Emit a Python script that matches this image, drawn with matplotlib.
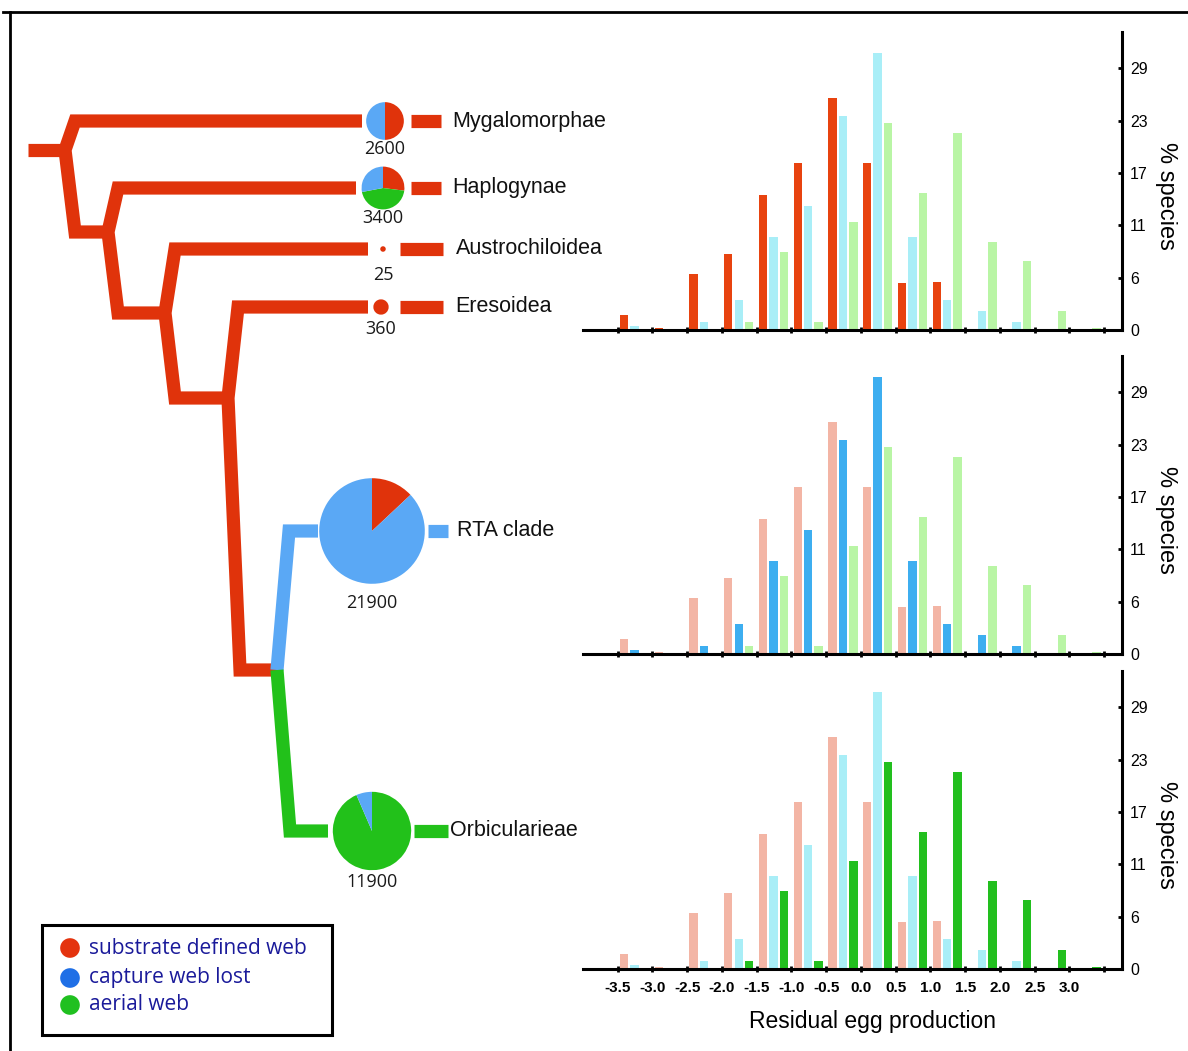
import numpy as np
import matplotlib
matplotlib.use("Agg")
import matplotlib.pyplot as plt
from matplotlib.patches import Rectangle

# histogram data: % species per residual egg production bin
bins = [-3.5, -3.0, -2.5, -2.0, -1.5, -1.0, -0.5, 0.0, 0.5, 1.0, 1.5, 2.0, 2.5, 3.0]
substrate_pct = [1.7, 0.2, 6.2, 8.4, 15.0, 18.5, 25.7, 18.5, 5.2, 5.3, 0, 0, 0, 0]
lost_pct = [0.4, 0, 0.9, 3.3, 10.3, 13.8, 23.7, 30.7, 10.3, 3.3, 2.1, 0.9, 0, 0]
aerial_pct = [0, 0, 0, 0.9, 8.7, 0.9, 12.0, 23.0, 15.2, 21.8, 9.8, 7.6, 2.1, 0.2]

xtick_labels = ["-3.5", "-3.0", "-2.5", "-2.0", "-1.5", "-1.0", "-0.5", "0.0",
                "0.5", "1.0", "1.5", "2.0", "2.5", "3.0", ""]
ytick_vals = [0, 5.8, 11.6, 17.4, 23.2, 29]
ytick_labels = ["0", "6", "11", "17", "23", "29"]

# clades, species numbers and web-type shares
clades = ["Mygalomorphae", "Haplogynae", "Austrochiloidea", "Eresoidea", "RTA clade", "Orbicularieae"]
species = [2600, 3400, 25, 360, 21900, 11900]
share_substrate = [0.50, 0.27, 1.0, 1.0, 0.13, 0.0]
share_aerial = [0.0, 0.45, 0.0, 0.0, 0.0, 0.935]
share_lost = [0.50, 0.28, 0.0, 0.0, 0.87, 0.065]

legend_labels = ["substrate defined web", "capture web lost", "aerial web"]

W, H = 1188, 1051
RED, BLUE, GREEN = "#E0330B", "#5AA8F5", "#22C11A"
NARROW = ["Liberation Sans Narrow", "Liberation Sans", "DejaVu Sans"]

fig = plt.figure(figsize=(W / 100, H / 100), dpi=100)
fig.patch.set_facecolor("white")

# ---- background axes in pixel units for tree, pies, legend ----
bg = fig.add_axes([0, 0, 1, 1])

def line(pts, color, lw=9.5):
    bg.plot([p[0] for p in pts], [H - p[1] for p in pts], color=color, lw=lw,
            solid_joinstyle="miter", solid_capstyle="butt")

# tree layout (pixels)
node_x = [65, 108, 165, 228, 277]
node_y = [150, 232, 313, 398, 670]
tip_y = [121, 188, 249, 307, 531, 831]
pie_x = [385, 383, 383, 381, 372, 372]
stub_end = [362, 356, 368, 368, 318, 328]
after = [(411, 441), (411, 441), (400, 443), (400, 443), (428, 448), (414, 448)]
label_x = [452, 452, 456, 455, 457, 450]
count_y = [149, 218, 275, 329, 603, 882]
slant = 10

line([(28, 150), (node_x[0], 150)], RED)
for i in range(4):
    line([(stub_end[i], tip_y[i]), (node_x[i] + slant, tip_y[i]), (node_x[i], node_y[i]),
          (node_x[i] + slant + (2 if i == 3 else 0), node_y[i + 1]), (node_x[i + 1], node_y[i + 1])], RED)
line([(stub_end[4], tip_y[4]), (node_x[4] + 12, tip_y[4]), (node_x[4], node_y[4])], BLUE)
line([(node_x[4], node_y[4]), (node_x[4] + 13, tip_y[5]), (stub_end[5], tip_y[5])], GREEN)

tip_colors = [RED, RED, RED, RED, BLUE, GREEN]
for i, name in enumerate(clades):
    line([(after[i][0], tip_y[i]), (after[i][1], tip_y[i])], tip_colors[i])
    r = 0.35 * np.sqrt(species[i]) + 1
    bg.pie([share_substrate[i], share_aerial[i], share_lost[i]], colors=[RED, GREEN, BLUE],
           startangle=90, counterclock=False, radius=r, center=(pie_x[i], H - tip_y[i]),
           frame=True, wedgeprops=dict(linewidth=0))
    bg.text(label_x[i], H - tip_y[i], name, ha="left", va="center", fontsize=15.5,
            family=NARROW, color="#111111")
    bg.text(pie_x[i], H - count_y[i], str(species[i]), ha="center", va="center",
            fontsize=13, family="Open Sans", color="#1a1a1a")

# legend box
bg.add_patch(Rectangle((42, H - 1035), 290, 110, fill=False, lw=2.2, edgecolor="black"))
leg_y = [948, 978, 1005]
for y, lab, c in zip(leg_y, legend_labels, ["#E4330E", "#1F6FE6", "#20C020"]):
    bg.scatter([70], [H - y], s=200, color=c, edgecolors="none")
    bg.text(89, H - y, lab, ha="left", va="center", fontsize=15, family="Open Sans",
            color="#1A1A9A")

# outer frame
bg.plot([3, W], [H - 12, H - 12], color="black", lw=2)
bg.plot([10, 10], [H - 12, 0], color="black", lw=2)

bg.set_xlim(0, W)
bg.set_ylim(0, H)
bg.set_aspect("auto")
bg.axis("off")

# ---- histograms ----
hist_bottoms = [330, 654, 969]
panel_colors = [
    ["#E8430F", "#A9EEF7", "#B9F5A5"],
    ["#F3B5A5", "#3DAEF0", "#B9F5A5"],
    ["#F3B5A5", "#A9EEF7", "#22BF1E"],
]
offsets = [0.09, 0.24, 0.39]
for k in range(3):
    ax = fig.add_axes([583 / W, 1 - hist_bottoms[k] / H, 538.6 / W, 297.6 / H])
    ax.set_facecolor("none")
    for vals, off, c in zip([substrate_pct, lost_pct, aerial_pct], offsets, panel_colors[k]):
        ax.bar([b + off for b in bins], vals, width=0.12, color=c, linewidth=0, zorder=2)
    ax.set_xlim(-4.0, 3.75)
    ax.set_ylim(0, 33)
    ax.spines[["top", "left"]].set_visible(False)
    for s in ["bottom", "right"]:
        ax.spines[s].set_linewidth(2.2)
    ax.set_xticks(np.arange(-3.5, 3.51, 0.5))
    if k == 2:
        ax.set_xticklabels(xtick_labels, fontsize=11, fontweight="bold", family="Liberation Sans")
    else:
        ax.set_xticklabels([])
    ax.tick_params(axis="x", direction="inout", length=5, width=2, pad=6)
    ax.yaxis.tick_right()
    ax.set_yticks(ytick_vals, ytick_labels, fontsize=11.5, family="Liberation Sans")
    ax.tick_params(axis="y", direction="in", length=3, width=2, pad=6)
    ax.text(1.083, 0.45, "% species", transform=ax.transAxes, rotation=270,
            ha="center", va="center", fontsize=17, family="Liberation Sans")
    if k == 2:
        ax.text(0.538, -0.178, "Residual egg production", transform=ax.transAxes,
                ha="center", va="center", fontsize=16.5, family="Liberation Sans")

fig.savefig("out.png", dpi=100)
